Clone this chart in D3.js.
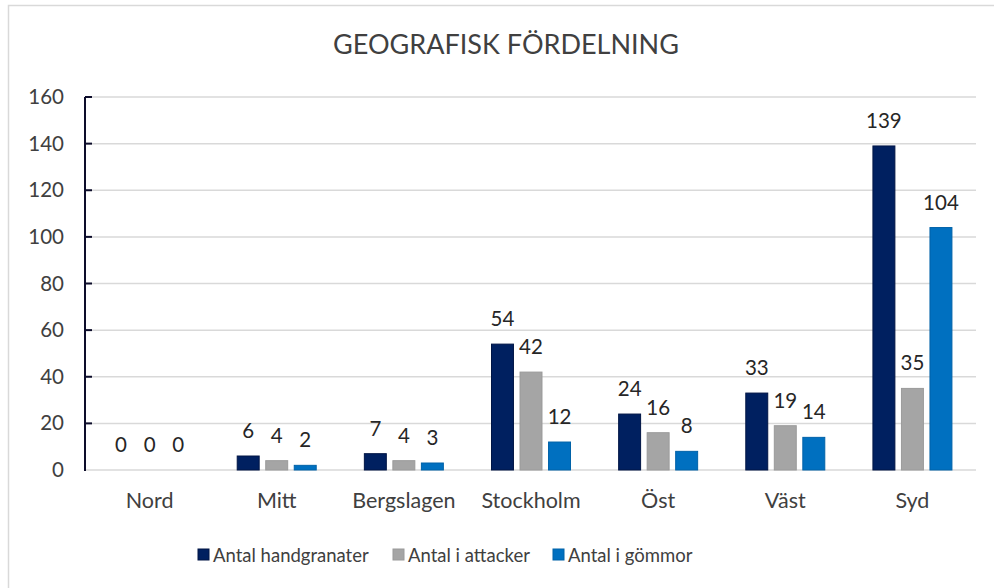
<!DOCTYPE html>
<html>
<head>
<meta charset="utf-8">
<script src="https://cdn.jsdelivr.net/npm/d3@7"></script>
<style>
  html, body { margin: 0; padding: 0; background: #fff; }
  svg { display: block; font-family: Lato, "Open Sans", sans-serif; }
</style>
</head>
<body>
<svg id="chart" width="994" height="588"></svg>
<script>
const title = "GEOGRAFISK FÖRDELNING";
const categories = ["Nord", "Mitt", "Bergslagen", "Stockholm", "Öst", "Väst", "Syd"];
const seriesNames = ["Antal handgranater", "Antal i attacker", "Antal i gömmor"];
const handgranater = [0, 6, 7, 54, 24, 33, 139];
const attacker = [0, 4, 4, 42, 16, 19, 35];
const gommor = [0, 2, 3, 12, 8, 14, 104];
const yTicks = [0, 20, 40, 60, 80, 100, 120, 140, 160];
const seriesColors = ["#002060", "#A5A5A5", "#0070C0"];
const seriesStrokes = ["#001545", "#9a9a9a", "#0062a8"];

const seriesValues = [handgranater, attacker, gommor];

const svg = d3.select("#chart");
const W = 994, H = 588;

// outer border
svg.append("rect").attr("x", 8.5).attr("y", 5.5).attr("width", W).attr("height", H)
  .attr("fill", "#fff").attr("stroke", "#d9d9d9").attr("stroke-width", 1.5);

const pLeft = 86, pRight = 976, pTop = 97, pBottom = 470;

const x = d3.scaleBand().domain(categories).range([pLeft, pRight]).padding(0);
const y = d3.scaleLinear().domain([0, 160]).range([pBottom, pTop]);
const inner = d3.scaleBand().domain(seriesNames).range([-39.5, 39.5]).paddingInner(0.23);

// title
svg.append("text").attr("x", 506).attr("y", 54).attr("text-anchor", "middle")
  .attr("font-size", 27).attr("fill", "#404040").text(title);

// gridlines
svg.append("g").selectAll("line").data(yTicks).join("line")
  .attr("x1", pLeft).attr("x2", pRight)
  .attr("y1", d => y(d)).attr("y2", d => y(d))
  .attr("stroke", "#d9d9d9").attr("stroke-width", 1.5);

// y axis
const yAxis = d3.axisLeft(y).tickValues(yTicks).tickSize(0).tickPadding(22);
const gy = svg.append("g").attr("transform", `translate(${pLeft},0)`).call(yAxis);
gy.select(".domain").remove();
gy.selectAll("text").attr("font-size", 20.5).attr("fill", "#404040")
  .attr("font-family", "Lato, sans-serif");
// axis line & inside ticks
svg.append("line").attr("x1", 85).attr("x2", 85).attr("y1", pTop).attr("y2", pBottom + 1)
  .attr("stroke", "#0d0d2b").attr("stroke-width", 2);
svg.append("g").selectAll("line").data(yTicks.filter(d => d > 0)).join("line")
  .attr("x1", 85).attr("x2", 92).attr("y1", d => y(d)).attr("y2", d => y(d))
  .attr("stroke", "#0d0d2b").attr("stroke-width", 2);

// x axis labels
const xAxis = d3.axisBottom(x).tickSize(0).tickPadding(23);
const gx = svg.append("g").attr("transform", `translate(0,${pBottom})`).call(xAxis);
gx.select(".domain").remove();
gx.selectAll("text").attr("font-size", 21.5).attr("fill", "#404040")
  .attr("font-family", "Lato, sans-serif");

// bars
const groups = svg.append("g").selectAll("g").data(categories).join("g")
  .attr("transform", d => `translate(${x(d) + x.bandwidth() / 2},0)`);

seriesNames.forEach((s, si) => {
  groups.append("rect")
    .attr("x", inner(s))
    .attr("width", inner.bandwidth())
    .attr("y", (d, i) => y(seriesValues[si][i]))
    .attr("height", (d, i) => pBottom - y(seriesValues[si][i]))
    .attr("fill", seriesColors[si])
    .attr("stroke", (d, i) => seriesValues[si][i] > 0 ? seriesStrokes[si] : "none")
    .attr("stroke-width", 1);
  groups.append("text")
    .attr("x", inner(s) + inner.bandwidth() / 2)
    .attr("y", (d, i) => y(seriesValues[si][i]) - 18)
    .attr("text-anchor", "middle")
    .attr("font-size", 20.5).attr("fill", "#262626")
    .text((d, i) => seriesValues[si][i]);
});

// legend
const legendX = [198, 393, 553];
const lg = svg.append("g").selectAll("g").data(seriesNames).join("g")
  .attr("transform", (d, i) => `translate(${legendX[i]},549)`);
lg.append("rect").attr("width", 11).attr("height", 11)
  .attr("fill", (d, i) => seriesColors[i]).attr("stroke", (d, i) => seriesStrokes[i]);
lg.append("text").attr("x", 15).attr("y", 13).attr("font-size", 18.5).attr("fill", "#404040")
  .text(d => d);
</script>
</body>
</html>
